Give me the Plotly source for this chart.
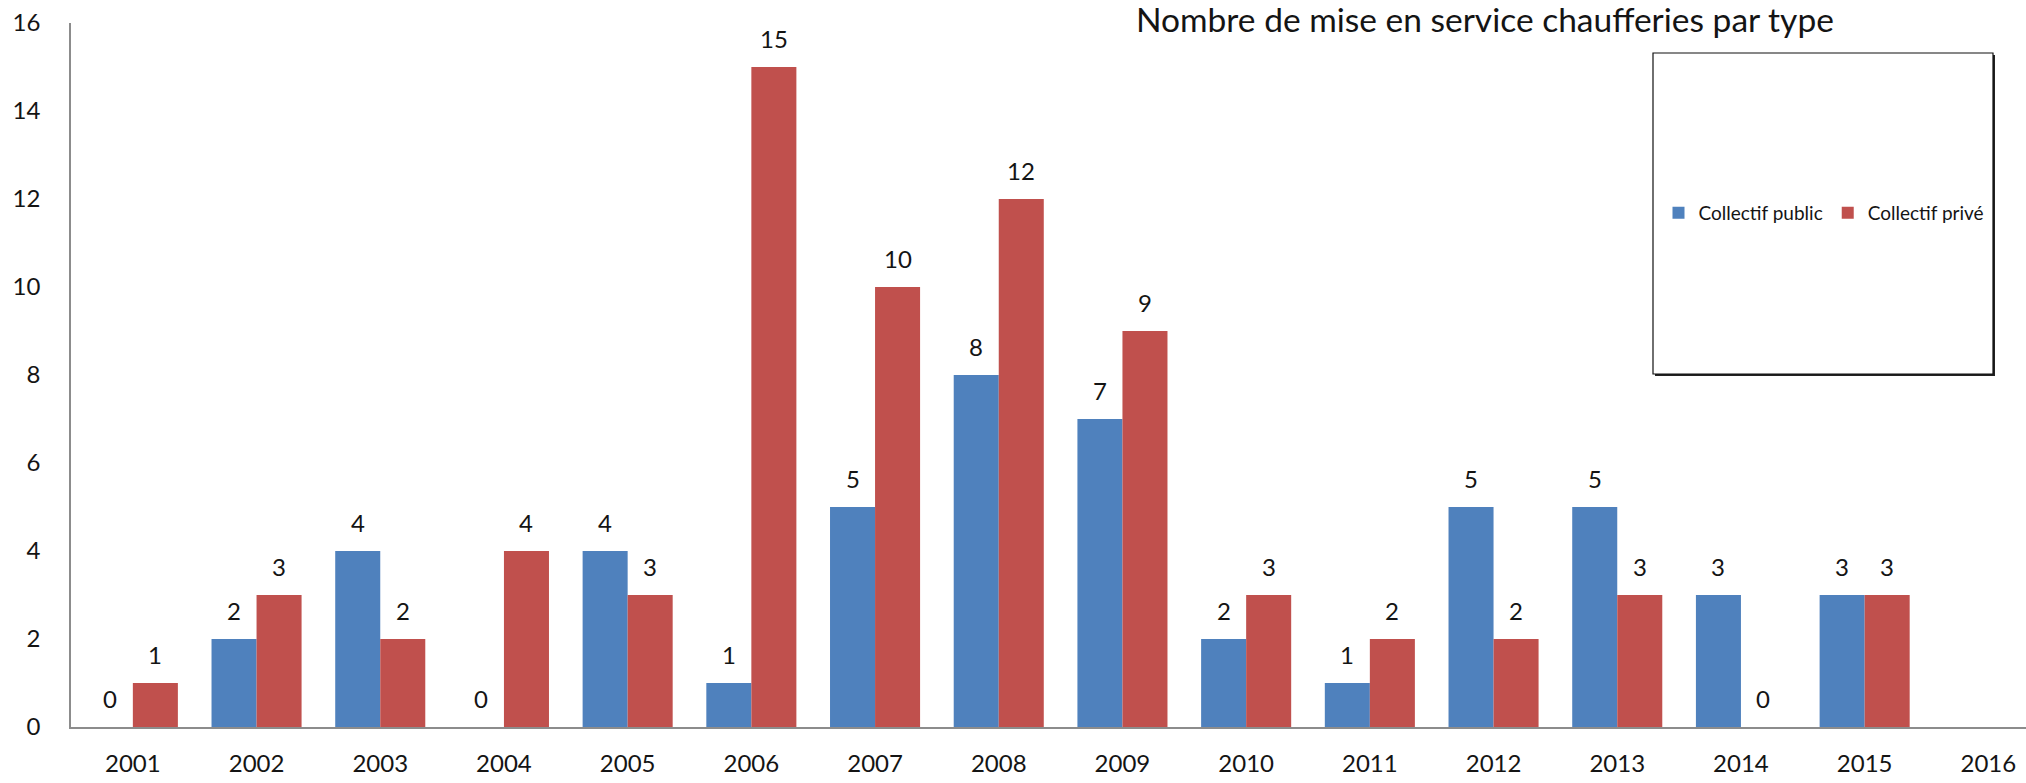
import plotly.graph_objects as go

years = [2001, 2002, 2003, 2004, 2005, 2006, 2007, 2008, 2009, 2010, 2011, 2012, 2013, 2014, 2015, 2016]
data_years = [2001, 2002, 2003, 2004, 2005, 2006, 2007, 2008, 2009, 2010, 2011, 2012, 2013, 2014, 2015]
collectif_public = [0, 2, 4, 0, 4, 1, 5, 8, 7, 2, 1, 5, 5, 3, 3]
collectif_prive = [1, 3, 2, 4, 3, 15, 10, 12, 9, 3, 2, 2, 3, 0, 3]
y_ticks = [0, 2, 4, 6, 8, 10, 12, 14, 16]

title_text = "Nombre de mise en service chaufferies par type"
BLUE = "#4F81BD"
RED = "#C0504D"
FONT = "Lato"
TXT = "#141414"

W, H = 2026, 783
ML, MR, MT, MB = 71, 0, 23, 56
PW, PH = W - ML - MR, H - MT - MB

def px_x(x):
    return (x - ML) / PW

def px_y(y):
    return (H - MB - y) / PH

BARGAP = 0.272
half = (1 - BARGAP) / 4  # offset of each bar centre from group centre

fig = go.Figure()
fig.add_trace(go.Bar(x=data_years, y=collectif_public, name="Collectif public",
                     marker=dict(color=BLUE, line=dict(width=0))))
fig.add_trace(go.Bar(x=data_years, y=collectif_prive, name="Collectif privé",
                     marker=dict(color=RED, line=dict(width=0))))

annotations = []
for yr, v in zip(data_years, collectif_public):
    annotations.append(dict(x=yr - half, y=v, xref="x", yref="y", text=str(v),
                            showarrow=False, yanchor="middle", yshift=29,
                            font=dict(family=FONT, size=24, color=TXT)))
for yr, v in zip(data_years, collectif_prive):
    annotations.append(dict(x=yr + half, y=v, xref="x", yref="y", text=str(v),
                            showarrow=False, yanchor="middle", yshift=29,
                            font=dict(family=FONT, size=24, color=TXT)))

# legend box (large framed area with slight shadow on bottom/right)
bx0, bx1, by0, by1 = 1653, 1993, 53, 374
shapes = [
    dict(type="rect", xref="paper", yref="paper",
         x0=px_x(bx0 + 2), x1=px_x(bx1 + 2), y0=px_y(by1 + 2), y1=px_y(by0 + 2),
         fillcolor="#222222", line=dict(width=0), layer="above"),
    dict(type="rect", xref="paper", yref="paper",
         x0=px_x(bx0), x1=px_x(bx1), y0=px_y(by1), y1=px_y(by0),
         fillcolor="white", line=dict(color="#111111", width=1.2), layer="above"),
]

fig.update_layout(
    width=W, height=H,
    margin=dict(l=ML, r=MR, t=MT, b=MB, pad=0, autoexpand=False),
    paper_bgcolor="white", plot_bgcolor="white",
    barmode="group", bargap=BARGAP, bargroupgap=0,
    font=dict(family=FONT, size=24, color=TXT),
    title=dict(text=title_text, xref="container", yref="container",
               x=1136 / W, xanchor="left", y=1 - 20 / H, yanchor="middle",
               font=dict(family=FONT, size=33.5, color=TXT), automargin=False),
    showlegend=True,
    legend=dict(orientation="h", x=px_x(1824), y=px_y(213),
                xanchor="center", yanchor="middle", bgcolor="rgba(0,0,0,0)",
                borderwidth=0, font=dict(family=FONT, size=19, color=TXT),
                itemwidth=30, traceorder="normal"),
    xaxis=dict(range=[2000.5, 2000.5 + PW / 123.7], tickvals=years,
               ticktext=[str(y) for y in years], showgrid=False, zeroline=False,
               showline=True, linecolor="#8C8C8C", linewidth=1.5, ticks="",
               automargin=False,
               ticklabelstandoff=14, tickfont=dict(family=FONT, size=24, color=TXT)),
    yaxis=dict(range=[0, 16], tickvals=y_ticks, showgrid=False, zeroline=False,
               showline=True, linecolor="#8C8C8C", linewidth=1.5, ticks="",
               automargin=False,
               ticklabelstandoff=24, tickfont=dict(family=FONT, size=24, color=TXT)),
    annotations=annotations,
    shapes=shapes,
)

fig.write_html("out.html",
               config={"displayModeBar": False},
               post_script="document.body.style.margin='0px';document.body.style.overflow='hidden';")
